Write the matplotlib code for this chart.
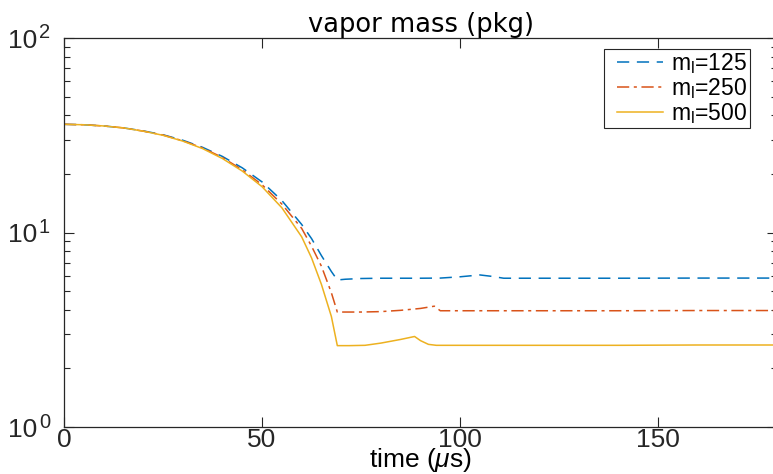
import matplotlib
matplotlib.use("Agg")
import matplotlib.pyplot as plt
from matplotlib.patches import Rectangle
import numpy as np

plt.rcParams['font.family'] = ['Liberation Sans', 'DejaVu Sans']
plt.rcParams['mathtext.fontset'] = 'custom'
plt.rcParams['mathtext.rm'] = 'Liberation Sans'
plt.rcParams['mathtext.it'] = 'Liberation Sans:italic'

# time (us) and vapor mass for each liquid mass case
t_125 = [0, 5, 10, 15, 20, 25, 30, 35, 40, 45, 50, 55, 60, 62.5, 65, 67.5, 69,
         71, 75, 80, 90, 95, 100, 105, 108, 111, 120, 140, 160, 180]
m_125 = [36, 35.8, 35.3, 34.5, 33.3, 31.8, 29.8, 27.4, 24.6, 21.5, 18.2, 14.6, 11.0,
         9.3, 7.6, 6.3, 5.7, 5.75, 5.8, 5.82, 5.82, 5.83, 5.92, 6.05, 5.95, 5.82, 5.82, 5.82, 5.83, 5.83]

t_250 = [0, 5, 10, 15, 20, 25, 30, 35, 40, 45, 50, 55, 60, 62.5, 65, 67.5, 69,
         75, 80, 85, 90, 93.5, 95, 100, 120, 140, 160, 180]
m_250 = [36, 35.8, 35.3, 34.5, 33.2, 31.7, 29.6, 27.2, 24.3, 21.0, 17.6, 14.0, 10.5,
         8.5, 6.7, 4.9, 3.9, 3.9, 3.92, 3.98, 4.07, 4.18, 3.96, 3.96, 3.96, 3.96, 3.97, 3.97]

t_500 = [0, 5, 10, 15, 20, 25, 30, 35, 40, 45, 50, 55, 60, 62.5, 65, 67.5, 69,
         72, 76, 80, 85, 88.5, 90, 92, 94, 100, 120, 140, 160, 180]
m_500 = [36, 35.8, 35.3, 34.5, 33.2, 31.6, 29.5, 27.0, 24.0, 20.7, 17.2, 13.4, 9.5,
         7.4, 5.4, 3.7, 2.62, 2.62, 2.63, 2.7, 2.82, 2.92, 2.78, 2.66, 2.63, 2.63, 2.63, 2.63, 2.64, 2.64]

labels = [r'm$_\mathregular{l}$=125', r'm$_\mathregular{l}$=250', r'm$_\mathregular{l}$=500']
colors = ['#0072BD', '#D95319', '#EDB120']
xticks = [0, 50, 100, 150]
ydecades = [1, 10, 100]
yexps = ['0', '1', '2']

W, H = 773, 474
fig = plt.figure(figsize=(W/100, H/100), dpi=100)
left, right, top, bottom = 64, 777, 38, 427
ax = fig.add_axes([left/W, 1-bottom/H, (right-left)/W, (bottom-top)/H])

ax.plot(t_125, m_125, color=colors[0], lw=1.1, linestyle=(0, (8, 5)), label=labels[0])
ax.plot(t_250, m_250, color=colors[1], lw=1.1, linestyle=(0, (8, 3, 2, 3)), label=labels[1])
ax.plot(t_500, m_500, color=colors[2], lw=1.1, linestyle='-', label=labels[2])

ax.set_yscale('log')
ax.set_ylim(1, 100)
ax.set_xlim(0, 180)
ax.set_xticks(xticks)
ax.set_yticks(ydecades)
ax.tick_params(which='both', direction='in', top=True, right=True, labelsize=19,
               colors='#262626', width=0.8)
ax.tick_params(axis='y', which='both', labelleft=False)
ax.tick_params(which='major', length=7)
ax.tick_params(which='minor', length=4)
ax.tick_params(axis='x', pad=1)
for s in ax.spines.values():
    s.set_color('#262626')
    s.set_linewidth(0.9)

# y tick labels as base + superscript exponent
for v, e in zip(ydecades, yexps):
    ax.annotate('10', xy=(0, v), xycoords=('axes fraction', 'data'),
                xytext=(-27, -3), textcoords='offset pixels', ha='right', va='center',
                fontsize=19, color='#262626', annotation_clip=False)
    ax.annotate(e, xy=(0, v), xycoords=('axes fraction', 'data'),
                xytext=(-25, 5), textcoords='offset pixels', ha='left', va='center',
                fontsize=14.5, color='#262626', annotation_clip=False)

ax.set_xlabel(r'time ($\mu$s)', fontsize=19, labelpad=-4.5)
ax.set_title('vapor mass (pkg)', fontsize=18.5, family='DejaVu Sans', pad=1)

# legend box
box = Rectangle((604/W, 1-128/H), 146/W, 79/H, transform=fig.transFigure,
                facecolor='white', edgecolor='#262626', lw=0.8, zorder=4, clip_on=False)
ax.add_patch(box)
leg = ax.legend(loc='upper right', bbox_to_anchor=(748/W, 1-50/H), bbox_transform=fig.transFigure,
                borderaxespad=0, fontsize=16.5, frameon=False,
                handlelength=2.0, labelspacing=0.0, borderpad=0.05,
                handletextpad=0.35)
leg.set_zorder(5)

fig.savefig('out.png', dpi=100)
